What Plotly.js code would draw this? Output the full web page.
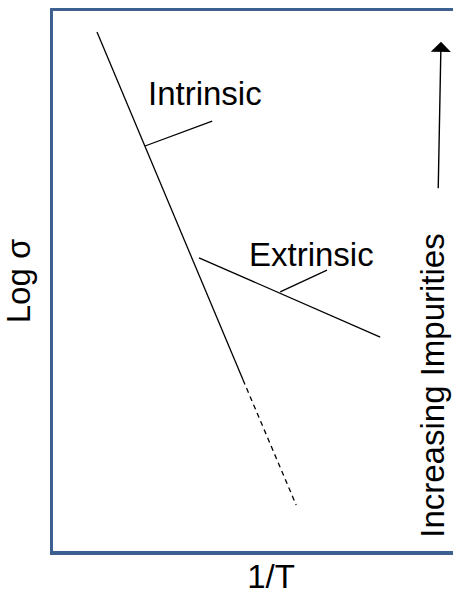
<!DOCTYPE html>
<html>
<head>
<meta charset="utf-8">
<script src="https://cdn.plot.ly/plotly-3.0.1.min.js"></script>
<style>
  html, body { margin: 0; padding: 0; background: #ffffff; overflow: hidden; }
  #chart { width: 489px; height: 595px; }
</style>
</head>
<body>
<div id="chart"></div>
<script>
// Schematic: log conductivity against reciprocal temperature (arbitrary units).
// The framed plot area runs past the right edge of the page.
const intrinsicX = [1.10, 4.75];
const intrinsicY = [9.61, 3.17];
const intrinsicExtendedX = [4.75, 6.08];
const intrinsicExtendedY = [3.17, 0.85];
const extrinsicX = [3.65, 8.18];
const extrinsicY = [5.43, 3.96];
const intrinsicLeaderX = [2.30, 3.98];
const intrinsicLeaderY = [7.50, 7.96];
const extrinsicLeaderX = [5.68, 6.85];
const extrinsicLeaderY = [4.80, 5.20];
const impurityArrowTail = [9.63, 6.69];
const impurityArrowTip = [9.70, 9.43];

const labelIntrinsic = { text: 'Intrinsic', x: 2.33, y: 8.48 };
const labelExtrinsic = { text: 'Extrinsic', x: 4.86, y: 5.50 };
const labelImpurities = { text: 'Increasing Impurities', x: 9.50, y: 3.06 };
const xTitle = '1/T';
const yTitle = 'Log σ';

const FONT = 'Liberation Sans, Arial, sans-serif';
const FRAME = '#3C6090';
const FRAME_W = 3.5;

function seg(x, y, dash) {
  return {
    x: x, y: y, type: 'scatter', mode: 'lines',
    line: { color: '#000000', width: 1.3, dash: dash || 'solid' },
    hoverinfo: 'skip', showlegend: false
  };
}

const traces = [
  seg(intrinsicX, intrinsicY),
  seg(intrinsicExtendedX, intrinsicExtendedY, '5px,4px'),
  seg(extrinsicX, extrinsicY),
  seg(intrinsicLeaderX, intrinsicLeaderY),
  seg(extrinsicLeaderX, extrinsicLeaderY)
];

const textFont = { family: FONT, size: 33, color: '#000000' };

const layout = {
  width: 489, height: 595,
  margin: { l: 53, r: 0, t: 11, b: 44 },
  paper_bgcolor: '#ffffff', plot_bgcolor: '#ffffff',
  showlegend: false,
  xaxis: {
    range: [0, 10.9], showgrid: false, zeroline: false, showticklabels: false, ticks: '',
    showline: true, linecolor: FRAME, linewidth: FRAME_W, mirror: true,
    title: { text: xTitle, font: textFont, standoff: 16 }
  },
  yaxis: {
    range: [0, 10], showgrid: false, zeroline: false, showticklabels: false, ticks: '',
    showline: true, linecolor: FRAME, linewidth: FRAME_W, mirror: false,
    title: { text: yTitle, font: textFont, standoff: 16 }
  },
  annotations: [
    { x: labelIntrinsic.x, y: labelIntrinsic.y, xref: 'x', yref: 'y', text: labelIntrinsic.text,
      showarrow: false, xanchor: 'left', yanchor: 'middle', font: textFont },
    { x: labelExtrinsic.x, y: labelExtrinsic.y, xref: 'x', yref: 'y', text: labelExtrinsic.text,
      showarrow: false, xanchor: 'left', yanchor: 'middle', font: textFont },
    { x: labelImpurities.x, y: labelImpurities.y, xref: 'x', yref: 'y', text: labelImpurities.text,
      showarrow: false, textangle: -90, xanchor: 'center', yanchor: 'middle', font: textFont },
    { x: impurityArrowTip[0], y: impurityArrowTip[1], xref: 'x', yref: 'y',
      ax: impurityArrowTail[0], ay: impurityArrowTail[1], axref: 'x', ayref: 'y',
      text: '', showarrow: true, arrowhead: 1, arrowsize: 2.4, arrowwidth: 1.4,
      arrowcolor: '#000000', standoff: 0, startstandoff: 0 }
  ]
};

Plotly.newPlot('chart', traces, layout, { staticPlot: true, displayModeBar: false });
</script>
</body>
</html>
